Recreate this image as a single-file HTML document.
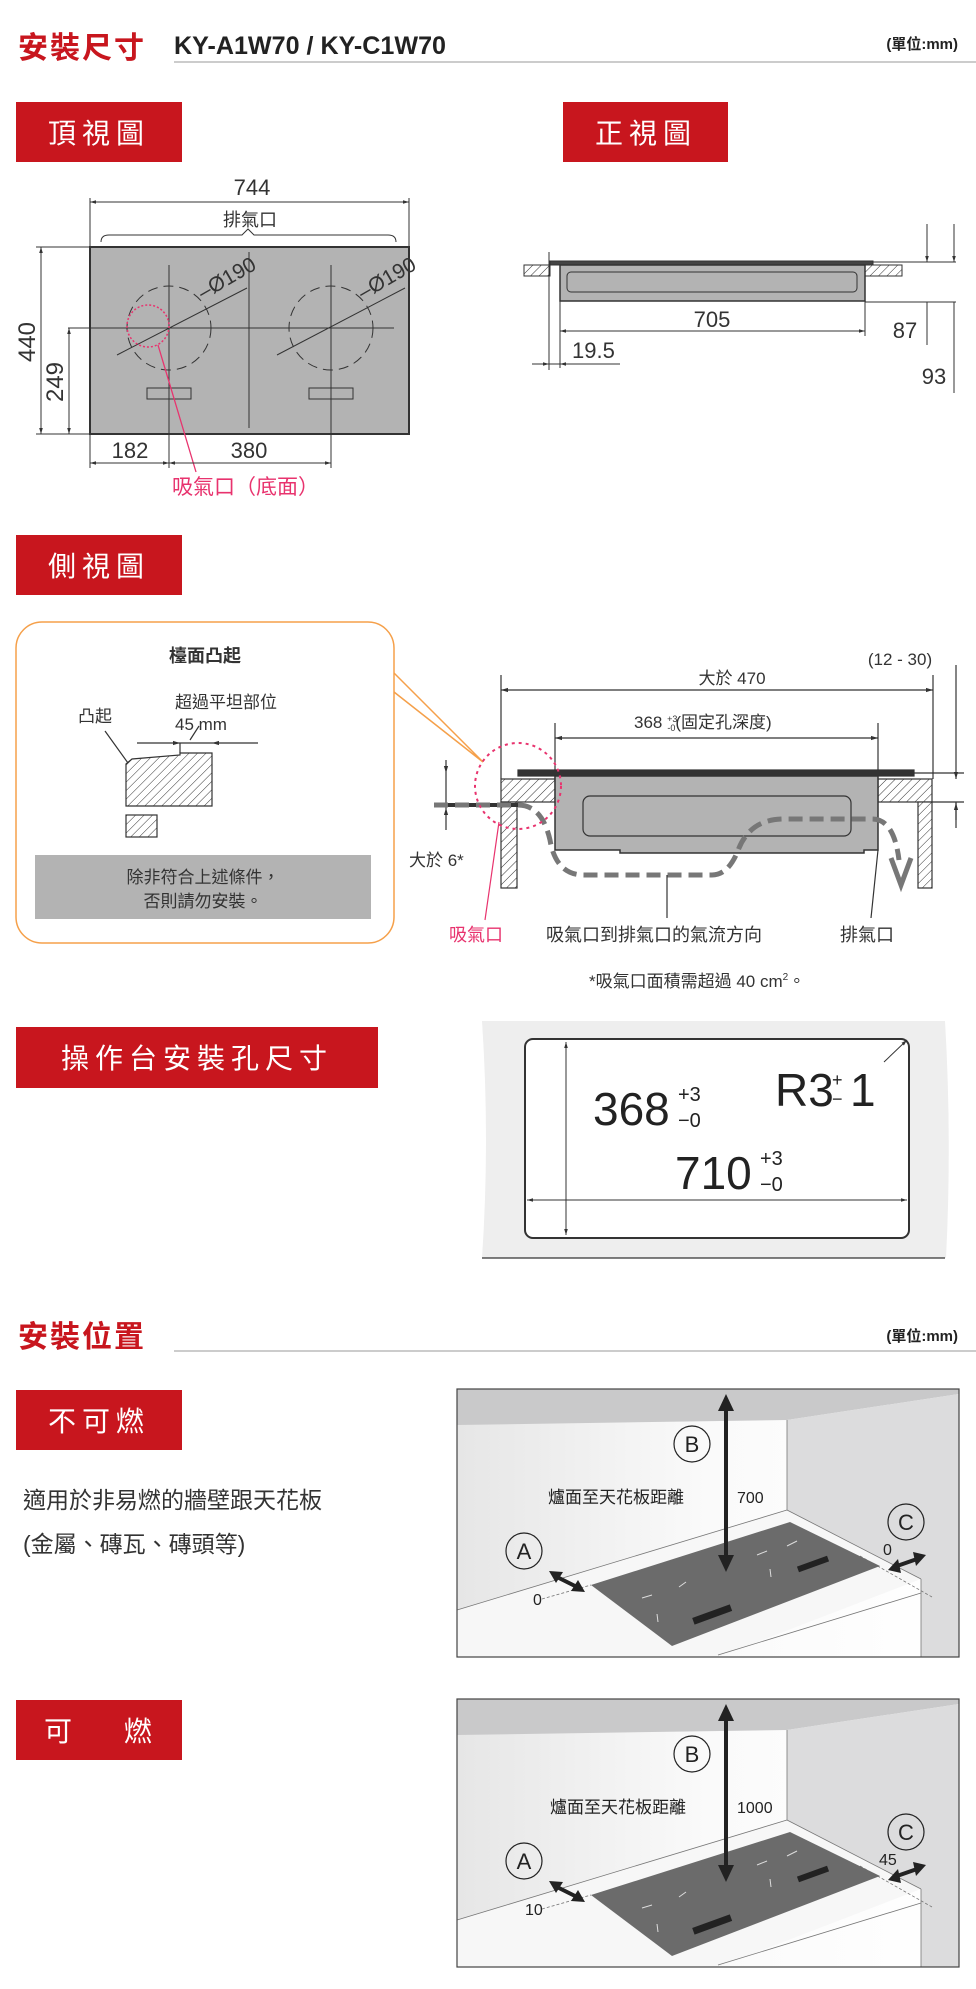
<!DOCTYPE html>
<html><head><meta charset="utf-8"><style>
html,body{margin:0;padding:0;background:#fff;}
svg{display:block;font-family:"Liberation Sans Narrow","Liberation Sans","Noto Sans CJK TC",sans-serif;}
</style></head><body>
<svg width="976" height="1989" viewBox="0 0 976 1989" xmlns="http://www.w3.org/2000/svg">
<defs>
<pattern id="h" width="6" height="6" patternUnits="userSpaceOnUse" patternTransform="rotate(45)"><rect width="6" height="6" fill="#fff"/><line x1="0" y1="0" x2="0" y2="6" stroke="#333" stroke-width="1"/></pattern>
<marker id="a" viewBox="0 0 10 10" refX="10" refY="5" markerWidth="6" markerHeight="6" orient="auto-start-reverse"><path d="M0,2 L10,5 L0,8z" fill="#333"/></marker>
<linearGradient id="wall" x1="0" y1="0" x2="1" y2="0"><stop offset="0" stop-color="#e6e6e6"/><stop offset="0.5" stop-color="#fafafa"/><stop offset="1" stop-color="#fff"/></linearGradient>
</defs>

<!-- Header -->
<text x="18" y="58" font-size="30" font-weight="bold" fill="#c8161e" font-family="'Noto Sans CJK TC',sans-serif" letter-spacing="2">安裝尺寸</text>
<text x="174" y="54" font-size="25" font-weight="bold" fill="#222" textLength="272" lengthAdjust="spacingAndGlyphs">KY-A1W70 / KY-C1W70</text>
<line x1="174" y1="62" x2="976" y2="62" stroke="#bbb" stroke-width="1.5"/>
<text x="958" y="49" font-size="15" font-weight="bold" fill="#222" text-anchor="end" font-family="'Liberation Sans','Noto Sans CJK TC',sans-serif">(單位:mm)</text>

<rect x="16" y="102" width="166" height="60" fill="#c8161e"/>
<text x="99" y="143" font-size="28" fill="#fff" text-anchor="middle" letter-spacing="6" font-family="'Noto Sans CJK TC',sans-serif">頂視圖</text>
<rect x="563" y="102" width="165" height="60" fill="#c8161e"/>
<text x="646" y="143" font-size="28" fill="#fff" text-anchor="middle" letter-spacing="6" font-family="'Noto Sans CJK TC',sans-serif">正視圖</text>

<!-- Top view -->
<g stroke="#333" fill="none" stroke-width="1">
<text x="252" y="195" font-size="22" fill="#333" stroke="none" text-anchor="middle">744</text>
<line x1="90" y1="202" x2="409" y2="202" marker-start="url(#a)" marker-end="url(#a)"/>
<line x1="90" y1="198" x2="90" y2="247"/><line x1="409" y1="198" x2="409" y2="247"/>
<text x="250" y="226" font-size="18" fill="#333" stroke="none" text-anchor="middle" font-family="'Noto Sans CJK TC',sans-serif">排氣口</text>
<path d="M101,242 q0,-7 8,-7 H242 l6,-6 l6,6 H388 q8,0 8,7"/>
<rect x="90" y="247" width="319" height="187" fill="#b3b3b3" stroke="#333" stroke-width="2"/>
<line x1="249" y1="252" x2="249" y2="428"/>
<line x1="169" y1="265" x2="169" y2="468"/><line x1="331" y1="265" x2="331" y2="468"/>
<line x1="68" y1="328" x2="394" y2="328"/>
<circle cx="169" cy="328" r="42" stroke-dasharray="10,6"/>
<circle cx="331" cy="328" r="42" stroke-dasharray="10,6"/>
<line x1="117" y1="355" x2="247" y2="288"/><line x1="277" y1="355" x2="405" y2="288"/>
<rect x="147" y="388" width="44" height="11"/><rect x="309" y="388" width="44" height="11"/>
<text x="0" y="0" font-size="21" fill="#333" stroke="none" transform="translate(203,300) rotate(-30)">–Ø190</text>
<text x="0" y="0" font-size="21" fill="#333" stroke="none" transform="translate(363,300) rotate(-30)">–Ø190</text>
<circle cx="148" cy="326" r="21" stroke="#e8336e" stroke-width="1.5" stroke-dasharray="2,2"/>
<line x1="158" y1="345" x2="196" y2="472" stroke="#e8336e" stroke-width="1.3"/>
<line x1="41" y1="247" x2="41" y2="434" marker-start="url(#a)" marker-end="url(#a)"/>
<line x1="36" y1="247" x2="90" y2="247"/><line x1="36" y1="434" x2="90" y2="434"/>
<text x="0" y="0" font-size="24" fill="#333" stroke="none" text-anchor="middle" transform="translate(35,342) rotate(-90)">440</text>
<line x1="69" y1="328" x2="69" y2="434" marker-start="url(#a)" marker-end="url(#a)"/>
<text x="0" y="0" font-size="24" fill="#333" stroke="none" text-anchor="middle" transform="translate(63,382) rotate(-90)">249</text>
<line x1="90" y1="434" x2="90" y2="468"/>
<line x1="90" y1="463" x2="169" y2="463" marker-start="url(#a)" marker-end="url(#a)"/>
<line x1="169" y1="463" x2="331" y2="463" marker-start="url(#a)" marker-end="url(#a)"/>
<text x="130" y="458" font-size="22" fill="#333" stroke="none" text-anchor="middle">182</text>
<text x="249" y="458" font-size="22" fill="#333" stroke="none" text-anchor="middle">380</text>
</g>
<text x="172" y="494" font-size="21" fill="#e8336e" font-family="'Noto Sans CJK TC',sans-serif">吸氣口（底面）</text>

<!-- Front view -->
<g stroke="#333" fill="none" stroke-width="1">
<rect x="524" y="265" width="26" height="11" fill="url(#h)"/>
<rect x="865" y="265" width="37" height="11" fill="url(#h)"/>
<line x1="549" y1="252" x2="549" y2="370"/>
<rect x="550" y="261" width="323" height="4" fill="#444"/>
<rect x="560" y="265" width="305" height="36" fill="#b3b3b3" stroke-width="1.5"/>
<rect x="567" y="272" width="290" height="20" rx="4"/>
<line x1="560" y1="301" x2="560" y2="368"/><line x1="865" y1="301" x2="865" y2="336"/>
<line x1="560" y1="331" x2="865" y2="331" marker-start="url(#a)" marker-end="url(#a)"/>
<text x="712" y="327" font-size="22" fill="#333" stroke="none" text-anchor="middle">705</text>
<line x1="532" y1="364" x2="549" y2="364" marker-end="url(#a)"/>
<line x1="576" y1="364" x2="560" y2="364" marker-end="url(#a)"/>
<line x1="549" y1="364" x2="620" y2="364"/>
<text x="572" y="358" font-size="22" fill="#333" stroke="none">19.5</text>
<line x1="873" y1="262" x2="956" y2="262"/><line x1="865" y1="302" x2="956" y2="302"/>
<line x1="927" y1="224" x2="927" y2="262" marker-end="url(#a)"/>
<line x1="927" y1="302" x2="927" y2="345"/>
<line x1="954" y1="224" x2="954" y2="262" marker-end="url(#a)"/>
<line x1="954" y1="302" x2="954" y2="393"/>
<text x="905" y="338" font-size="22" fill="#333" stroke="none" text-anchor="middle">87</text>
<text x="934" y="384" font-size="22" fill="#333" stroke="none" text-anchor="middle">93</text>
</g>

<!-- Side view -->
<rect x="16" y="535" width="166" height="60" fill="#c8161e"/>
<text x="99" y="576" font-size="28" fill="#fff" text-anchor="middle" letter-spacing="6" font-family="'Noto Sans CJK TC',sans-serif">側視圖</text>
<path d="M394,673 L483,762 L394,692" fill="none" stroke="#f5a04a" stroke-width="1.5"/>
<rect x="16" y="622" width="378" height="321" rx="26" fill="#fff" stroke="#f5a04a" stroke-width="1.5"/>
<text x="205" y="662" font-size="18" font-weight="bold" fill="#333" text-anchor="middle" font-family="'Noto Sans CJK TC',sans-serif">檯面凸起</text>
<text x="78" y="722" font-size="17" fill="#333" font-family="'Noto Sans CJK TC',sans-serif">凸起</text>
<text x="175" y="708" font-size="17" fill="#333" font-family="'Noto Sans CJK TC',sans-serif">超過平坦部位</text>
<text x="175" y="730" font-size="17" fill="#333">45 mm</text>
<g stroke="#333" fill="none" stroke-width="1.2">
<path d="M126,764 L132,759 L180,755 L180,753 L212,753 L212,806 L126,806 Z" fill="url(#h)"/>
<rect x="126" y="815" width="31" height="22" fill="url(#h)"/>
<line x1="105" y1="731" x2="128" y2="763"/>
<line x1="137" y1="743" x2="180" y2="743" marker-end="url(#a)"/>
<line x1="258" y1="743" x2="212" y2="743" marker-end="url(#a)"/>
<line x1="180" y1="743" x2="212" y2="743"/>
<line x1="180" y1="743" x2="180" y2="753"/>
<line x1="190" y1="740" x2="199" y2="726"/>
</g>
<rect x="35" y="855" width="336" height="64" fill="#b3b3b3"/>
<text x="203" y="883" font-size="17" fill="#333" text-anchor="middle" font-family="'Noto Sans CJK TC',sans-serif">除非符合上述條件，</text>
<text x="203" y="907" font-size="17" fill="#333" text-anchor="middle" font-family="'Noto Sans CJK TC',sans-serif">否則請勿安裝。</text>

<g transform="translate(-6,0)">
<g stroke="#333" fill="none" stroke-width="1.2">
<line x1="507" y1="675" x2="507" y2="779"/>
<line x1="939" y1="675" x2="939" y2="779"/>
<line x1="507" y1="690" x2="939" y2="690" marker-start="url(#a)" marker-end="url(#a)"/>
<text x="738" y="684" font-size="17" fill="#333" stroke="none" text-anchor="middle" font-family="'Liberation Sans','Noto Sans CJK TC',sans-serif">大於 470</text>
<line x1="561" y1="723" x2="561" y2="779"/><line x1="884" y1="723" x2="884" y2="775"/>
<line x1="561" y1="738" x2="884" y2="738" marker-start="url(#a)" marker-end="url(#a)"/>
<text x="640" y="728" font-size="17" fill="#333" stroke="none" font-family="'Liberation Sans','Noto Sans CJK TC',sans-serif">368 <tspan font-size="9" dy="-6">+3</tspan><tspan font-size="9" dx="-10" dy="9">-0</tspan><tspan dy="-3">(固定孔深度)</tspan></text>
<rect x="507" y="779" width="54" height="23" fill="url(#h)"/>
<rect x="507" y="802" width="16" height="86" fill="url(#h)"/>
<rect x="884" y="779" width="54" height="23" fill="url(#h)"/>
<rect x="924" y="802" width="14" height="86" fill="url(#h)"/>
<rect x="524" y="770" width="396" height="6" fill="#333"/>
<path d="M561,776 H884 V850 H870 V853 H626 V850 H561 Z" fill="#b3b3b3" stroke-width="1.5"/>
<rect x="589" y="796" width="268" height="40" rx="7"/>
<line x1="440" y1="805" x2="524" y2="805" stroke-width="4"/>
<line x1="452" y1="760" x2="452" y2="773" marker-end="url(#a)"/>
<line x1="452" y1="830" x2="452" y2="808" marker-end="url(#a)"/>
<line x1="452" y1="773" x2="452" y2="808"/>
<path d="M440,805 H524 Q548,805 556,840 Q562,875 590,875 H718 Q735,875 745,848 Q757,819 790,819 H878 Q900,819 905,860" stroke="#777" stroke-width="5" stroke-dasharray="14,7"/>
<path d="M897,858 L907,885 L917,858" stroke="#777" stroke-width="5"/>
<circle cx="524" cy="786" r="43" stroke="#e8336e" stroke-width="2" stroke-dasharray="3,4"/>
<line x1="505" y1="822" x2="491" y2="920" stroke="#e8336e"/>
<line x1="673" y1="875" x2="673" y2="918"/>
<line x1="884" y1="850" x2="877" y2="918"/>
</g>
<text x="415" y="866" font-size="17" fill="#333" font-family="'Liberation Sans','Noto Sans CJK TC',sans-serif">大於 6*</text>
<text x="455" y="941" font-size="18" fill="#e8336e" font-family="'Noto Sans CJK TC',sans-serif">吸氣口</text>
<text x="552" y="941" font-size="18" fill="#333" font-family="'Noto Sans CJK TC',sans-serif">吸氣口到排氣口的氣流方向</text>
<text x="846" y="941" font-size="18" fill="#333" font-family="'Noto Sans CJK TC',sans-serif">排氣口</text>
<text x="595" y="987" font-size="17" fill="#333" font-family="'Liberation Sans','Noto Sans CJK TC',sans-serif">*吸氣口面積需超過 40 cm<tspan font-size="10" dy="-7">2</tspan><tspan dy="7">。</tspan></text>
</g>
<g stroke="#333" fill="none" stroke-width="1.2">
<text x="900" y="665" font-size="17" fill="#333" stroke="none" text-anchor="middle">(12 - 30)</text>
<line x1="956" y1="665" x2="956" y2="779" marker-end="url(#a)"/>
<line x1="956" y1="802" x2="956" y2="828"/>
<line x1="956" y1="820" x2="956" y2="803" marker-end="url(#a)"/>
<line x1="914" y1="773" x2="964" y2="773"/><line x1="932" y1="802" x2="964" y2="802"/>
</g>

<!-- Cutout -->
<rect x="16" y="1027" width="362" height="61" fill="#c8161e"/>
<text x="197" y="1068" font-size="28" fill="#fff" text-anchor="middle" letter-spacing="6" font-family="'Noto Sans CJK TC',sans-serif">操作台安裝孔尺寸</text>
<path d="M482,1021 H945 Q952,1140 946,1258 H482 Q490,1140 482,1021Z" fill="#eeeeee"/>
<line x1="482" y1="1258" x2="945" y2="1258" stroke="#333" stroke-width="1.2"/>
<rect x="525" y="1039" width="384" height="199" rx="8" fill="#fff" stroke="#333" stroke-width="2"/>
<g stroke="#333" stroke-width="1">
<line x1="566" y1="1042" x2="566" y2="1235" marker-start="url(#a)" marker-end="url(#a)"/>
<line x1="527" y1="1200" x2="907" y2="1200" marker-start="url(#a)" marker-end="url(#a)"/>
<line x1="884" y1="1062" x2="907" y2="1040" marker-end="url(#a)"/>
</g>
<text x="593" y="1125" font-size="46" fill="#222">368</text>
<text x="678" y="1101" font-size="20" fill="#222">+3</text>
<text x="678" y="1127" font-size="20" fill="#222">−0</text>
<text x="775" y="1106" font-size="46" fill="#222">R3</text>
<text x="832" y="1086" font-size="18" fill="#222">+</text>
<text x="832" y="1105" font-size="18" fill="#222">−</text>
<text x="850" y="1106" font-size="46" fill="#222">1</text>
<text x="675" y="1189" font-size="46" fill="#222">710</text>
<text x="760" y="1165" font-size="20" fill="#222">+3</text>
<text x="760" y="1191" font-size="20" fill="#222">−0</text>

<!-- Install position -->
<text x="18" y="1347" font-size="30" font-weight="bold" fill="#c8161e" font-family="'Noto Sans CJK TC',sans-serif" letter-spacing="2">安裝位置</text>
<line x1="174" y1="1351" x2="976" y2="1351" stroke="#bbb" stroke-width="1.5"/>
<text x="958" y="1341" font-size="15" font-weight="bold" fill="#222" text-anchor="end" font-family="'Liberation Sans','Noto Sans CJK TC',sans-serif">(單位:mm)</text>
<rect x="16" y="1390" width="166" height="60" fill="#c8161e"/>
<text x="99" y="1431" font-size="28" fill="#fff" text-anchor="middle" letter-spacing="6" font-family="'Noto Sans CJK TC',sans-serif">不可燃</text>
<text x="23" y="1508" font-size="23" fill="#333" font-family="'Noto Sans CJK TC',sans-serif">適用於非易燃的牆壁跟天花板</text>
<text x="23" y="1552" font-size="23" fill="#333" font-family="'Liberation Sans','Noto Sans CJK TC',sans-serif">(金屬、磚瓦、磚頭等)</text>
<rect x="16" y="1700" width="166" height="60" fill="#c8161e"/>
<text x="58" y="1741" font-size="28" fill="#fff" text-anchor="middle" font-family="'Noto Sans CJK TC',sans-serif">可</text>
<text x="138" y="1741" font-size="28" fill="#fff" text-anchor="middle" font-family="'Noto Sans CJK TC',sans-serif">燃</text>

<!-- Scene 1 -->
<g transform="translate(457,1389)">
<rect width="502" height="268" fill="url(#wall)"/>
<path d="M0,0 H502 V5 L330,31 L0,36 Z" fill="#c9c9ca"/>
<path d="M330,31 L502,5 V268 H464 V190 L330,121 Z" fill="#dcdcdd"/>
<path d="M0,221 L330,121 L464,190 L261,268 L0,268 Z" fill="#f7f7f7"/>
<g stroke="#777" fill="none" stroke-width="0.8"><line x1="0" y1="221" x2="330" y2="121"/><line x1="330" y1="121" x2="464" y2="190"/><line x1="330" y1="31" x2="330" y2="121"/><line x1="464" y1="190" x2="464" y2="268"/><line x1="261" y1="266" x2="464" y2="204"/><line x1="403" y1="167" x2="475" y2="208" stroke-dasharray="3,2"/><line x1="85" y1="210" x2="134" y2="196" stroke-dasharray="3,2"/></g>
<path d="M134,196 L333,133 L423,177 L215,257 Z" fill="#6b6b6b"/>
<g stroke="#ddd" stroke-width="1"><line x1="185" y1="209" x2="195" y2="206"/><line x1="222" y1="198" x2="229" y2="193"/><line x1="300" y1="166" x2="310" y2="162"/><line x1="330" y1="157" x2="340" y2="152"/><line x1="200" y1="225" x2="201" y2="233"/><line x1="313" y1="180" x2="314" y2="188"/></g>
<rect x="235" y="222" width="40" height="7" fill="#222" transform="rotate(-20 255 225)"/>
<rect x="340" y="172" width="32" height="6" fill="#222" transform="rotate(-20 356 175)"/>
<rect width="502" height="268" fill="none" stroke="#444" stroke-width="1.2"/>
<line x1="269" y1="18" x2="269" y2="170" stroke="#222" stroke-width="4"/>
<path d="M261,22 L269,5 L277,22Z M261,166 L269,183 L277,166Z" fill="#222"/>
<g fill="none" stroke="#222" stroke-width="1.2"><circle cx="235" cy="55" r="18"/><circle cx="67" cy="162" r="18"/><circle cx="449" cy="133" r="18"/></g>
<text x="235" y="63" font-size="22" fill="#222" text-anchor="middle">B</text>
<text x="67" y="170" font-size="22" fill="#222" text-anchor="middle">A</text>
<text x="449" y="141" font-size="22" fill="#222" text-anchor="middle">C</text>
<text x="91" y="114" font-size="17" fill="#222" font-family="'Noto Sans CJK TC',sans-serif">爐面至天花板距離</text>
<text x="280" y="114" font-size="16" fill="#222">700</text>
<text x="76" y="216" font-size="16" fill="#222">0</text>
<text x="426" y="166" font-size="16" fill="#222">0</text>
<line x1="100" y1="188" x2="120" y2="198" stroke="#222" stroke-width="4"/>
<path d="M92,182 L106,183 L99,194Z M128,203 L114,202 L121,191Z" fill="#222"/>
<line x1="440" y1="177" x2="460" y2="170" stroke="#222" stroke-width="4"/>
<path d="M431,181 L441,170 L444,184Z M469,166 L459,177 L456,163Z" fill="#222"/>
</g>

<!-- Scene 2 -->
<g transform="translate(457,1699)">
<rect width="502" height="268" fill="url(#wall)"/>
<path d="M0,0 H502 V5 L330,31 L0,36 Z" fill="#c9c9ca"/>
<path d="M330,31 L502,5 V268 H464 V190 L330,121 Z" fill="#dcdcdd"/>
<path d="M0,221 L330,121 L464,190 L261,268 L0,268 Z" fill="#f7f7f7"/>
<g stroke="#777" fill="none" stroke-width="0.8"><line x1="0" y1="221" x2="330" y2="121"/><line x1="330" y1="121" x2="464" y2="190"/><line x1="330" y1="31" x2="330" y2="121"/><line x1="464" y1="190" x2="464" y2="268"/><line x1="261" y1="266" x2="464" y2="204"/><line x1="403" y1="167" x2="475" y2="208" stroke-dasharray="3,2"/><line x1="85" y1="210" x2="134" y2="196" stroke-dasharray="3,2"/></g>
<path d="M134,196 L333,133 L423,177 L215,257 Z" fill="#6b6b6b"/>
<g stroke="#ddd" stroke-width="1"><line x1="185" y1="209" x2="195" y2="206"/><line x1="222" y1="198" x2="229" y2="193"/><line x1="300" y1="166" x2="310" y2="162"/><line x1="330" y1="157" x2="340" y2="152"/><line x1="200" y1="225" x2="201" y2="233"/><line x1="313" y1="180" x2="314" y2="188"/></g>
<rect x="235" y="222" width="40" height="7" fill="#222" transform="rotate(-20 255 225)"/>
<rect x="340" y="172" width="32" height="6" fill="#222" transform="rotate(-20 356 175)"/>
<rect width="502" height="268" fill="none" stroke="#444" stroke-width="1.2"/>
<line x1="269" y1="18" x2="269" y2="170" stroke="#222" stroke-width="4"/>
<path d="M261,22 L269,5 L277,22Z M261,166 L269,183 L277,166Z" fill="#222"/>
<g fill="none" stroke="#222" stroke-width="1.2"><circle cx="235" cy="55" r="18"/><circle cx="67" cy="162" r="18"/><circle cx="449" cy="133" r="18"/></g>
<text x="235" y="63" font-size="22" fill="#222" text-anchor="middle">B</text>
<text x="67" y="170" font-size="22" fill="#222" text-anchor="middle">A</text>
<text x="449" y="141" font-size="22" fill="#222" text-anchor="middle">C</text>
<text x="93" y="114" font-size="17" fill="#222" font-family="'Noto Sans CJK TC',sans-serif">爐面至天花板距離</text>
<text x="280" y="114" font-size="16" fill="#222">1000</text>
<text x="68" y="216" font-size="16" fill="#222">10</text>
<text x="422" y="166" font-size="16" fill="#222">45</text>
<line x1="100" y1="188" x2="120" y2="198" stroke="#222" stroke-width="4"/>
<path d="M92,182 L106,183 L99,194Z M128,203 L114,202 L121,191Z" fill="#222"/>
<line x1="440" y1="177" x2="460" y2="170" stroke="#222" stroke-width="4"/>
<path d="M431,181 L441,170 L444,184Z M469,166 L459,177 L456,163Z" fill="#222"/>
</g>
</svg>
</body></html>
